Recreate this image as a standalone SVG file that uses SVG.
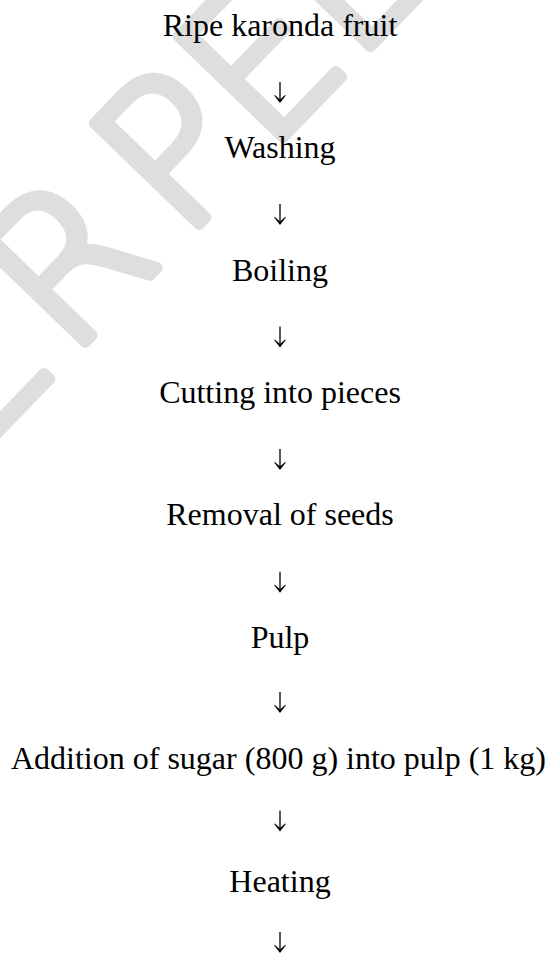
<svg xmlns="http://www.w3.org/2000/svg" width="548" height="956" viewBox="0 0 548 956">
  <style>
    .lbl { font-family: "Liberation Serif", "Times New Roman", serif; font-size: 32px; fill: #000; text-anchor: middle; }
    .wm { font-family: "DejaVu Sans ExtraLight", "DejaVu Sans", sans-serif; font-weight: 200; font-size: 200px; fill: #dedede; stroke: #dedede; stroke-width: 11; stroke-linejoin: round; stroke-linecap: round; }
    .stem { stroke: #000; stroke-width: 1.3; fill: none; }
    .head { fill: #000; }
  </style>
  <defs>
    <g id="arrow">
      <line class="stem" x1="0" y1="0" x2="0" y2="19.5"/>
      <path class="head" d="M0,21 L-5.8,13.6 L-5.1,13 L0,17.6 L5.1,13 L5.8,13.6 Z"/>
    </g>
  </defs>
  <rect width="548" height="956" fill="#fff"/>
  <g id="watermark" transform="translate(-46.3,478.7) rotate(-46)">
    <text class="wm" x="30 165 329 450 576 702" y="0">ERPEER</text>
  </g>
  <g id="connectors">
    <use href="#arrow" x="280" y="82"/>
    <use href="#arrow" x="280" y="204"/>
    <use href="#arrow" x="280" y="326.5"/>
    <use href="#arrow" x="280" y="449"/>
    <use href="#arrow" x="280" y="571.7"/>
    <use href="#arrow" x="280" y="692"/>
    <use href="#arrow" x="280" y="810.5"/>
    <use href="#arrow" x="280" y="932"/>
  </g>
  <g id="n1"><text class="lbl" x="280" y="36">Ripe karonda fruit</text></g>
  <g id="n2"><text class="lbl" x="280" y="158.3">Washing</text></g>
  <g id="n3"><text class="lbl" x="280" y="280.5">Boiling</text></g>
  <g id="n4"><text class="lbl" x="280" y="402.8">Cutting into pieces</text></g>
  <g id="n5"><text class="lbl" x="280" y="525">Removal of seeds</text></g>
  <g id="n6"><text class="lbl" x="280" y="647.5">Pulp</text></g>
  <g id="n7"><text class="lbl" x="278.5" y="768.5">Addition of sugar (800 g) into pulp (1 kg)</text></g>
  <g id="n8"><text class="lbl" x="280" y="891.8">Heating</text></g>
</svg>
